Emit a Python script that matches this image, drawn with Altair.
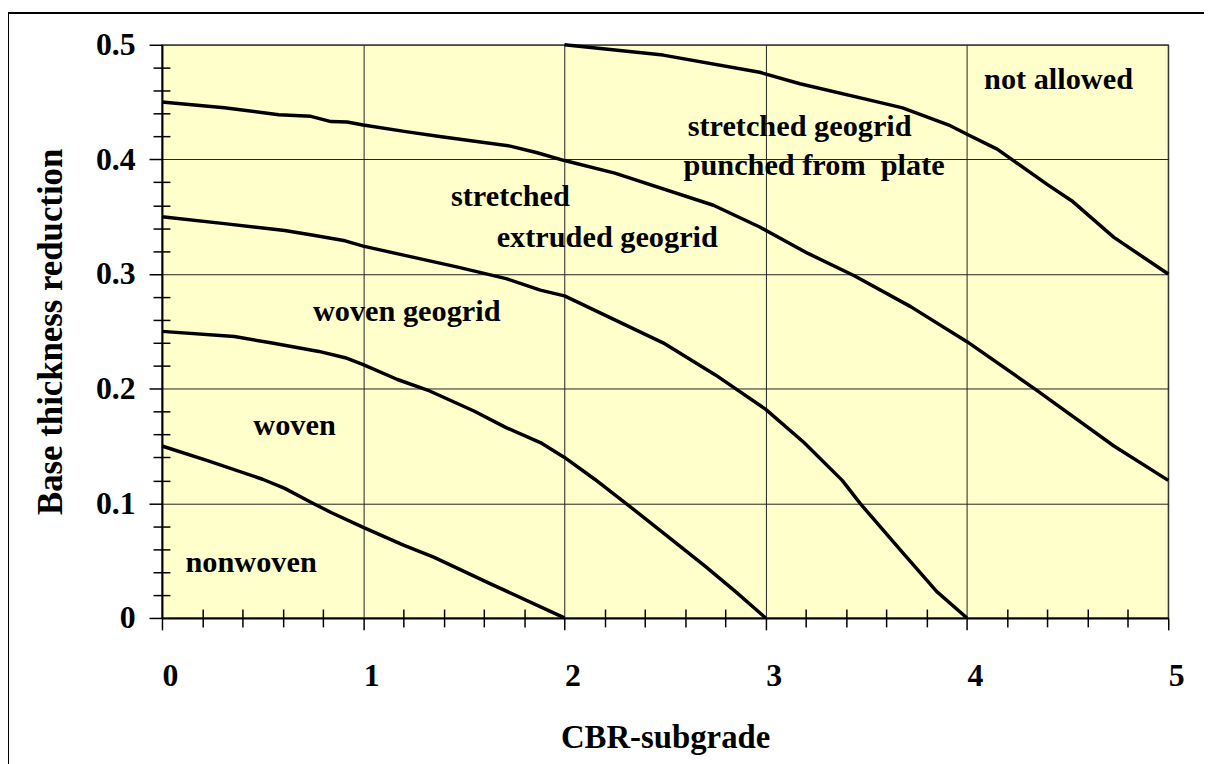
import altair as alt
import pandas as pd

FONT = "Liberation Serif"

# ---- curve data (CBR-subgrade vs base thickness reduction) ----
nonwoven_x = [0, 0.23, 0.50, 0.61, 0.74, 0.84, 1.00, 1.20, 1.35, 1.63, 2.00]
nonwoven_y = [0.150, 0.137, 0.121, 0.113, 0.101, 0.092, 0.079, 0.0635, 0.053, 0.030, 0.0]

woven_x = [0, 0.36, 0.54, 0.78, 0.91, 1.00, 1.17, 1.33, 1.55, 1.71, 1.88, 2.00,
           2.15, 2.305, 2.50, 2.70, 2.85, 3.00]
woven_y = [0.250, 0.2455, 0.240, 0.2325, 0.227, 0.221, 0.208, 0.198, 0.1805, 0.166,
           0.153, 0.140, 0.121, 0.100, 0.073, 0.045, 0.023, 0.0]

wgrid_x = [0, 0.31, 0.61, 0.76, 0.91, 1.00, 1.24, 1.47, 1.71, 1.88, 2.00, 2.37,
           2.49, 2.75, 3.00, 3.19, 3.38, 3.47, 3.69, 3.85, 4.00]
wgrid_y = [0.350, 0.344, 0.338, 0.3336, 0.329, 0.3244, 0.315, 0.306, 0.296, 0.286,
           0.281, 0.250, 0.240, 0.212, 0.182, 0.153, 0.120, 0.0997, 0.055, 0.023, 0.0]

extr_x = [0, 0.31, 0.58, 0.74, 0.84, 0.92, 1.00, 1.22, 1.38, 1.73, 1.86, 2.00,
          2.25, 2.74, 2.97, 3.21, 3.44, 3.72, 4.00, 4.34, 4.73, 5.00]
extr_y = [0.450, 0.445, 0.439, 0.4376, 0.433, 0.4327, 0.430, 0.424, 0.420, 0.4116,
          0.406, 0.399, 0.388, 0.360, 0.341, 0.318, 0.2985, 0.2716, 0.241, 0.1994,
          0.150, 0.120]

punch_x = [2.00, 2.49, 2.97, 3.17, 3.56, 3.68, 3.91, 4.00, 4.15, 4.40, 4.52, 4.73, 5.00]
punch_y = [0.500, 0.491, 0.476, 0.466, 0.450, 0.445, 0.430, 0.422, 0.409, 0.378,
           0.364, 0.332, 0.300]

# ---- region labels ----
label_text = ["not allowed", "stretched geogrid", "punched from\u00a0 plate", "stretched",
              "extruded geogrid", "woven geogrid", "woven", "nonwoven"]
label_x = [4.085, 2.612, 2.592, 1.436, 1.663, 0.750, 0.454, 0.117]
label_y = [0.461, 0.420, 0.386, 0.3596, 0.324, 0.2594, 0.160, 0.0404]

# ---- axis ticks ----
x_major = [0, 1, 2, 3, 4, 5]
x_minor = [0.2, 0.4, 0.6, 0.8, 1.2, 1.4, 1.6, 1.8, 2.2, 2.4, 2.6, 2.8,
           3.2, 3.4, 3.6, 3.8, 4.2, 4.4, 4.6, 4.8]
y_major = [0, 0.1, 0.2, 0.3, 0.4, 0.5]
y_minor = [0.02, 0.04, 0.06, 0.08, 0.12, 0.14, 0.16, 0.18, 0.22, 0.24, 0.26, 0.28,
           0.32, 0.34, 0.36, 0.38, 0.42, 0.44, 0.46, 0.48]

curves = [("c1", nonwoven_x, nonwoven_y), ("c2", woven_x, woven_y),
          ("c3", wgrid_x, wgrid_y), ("c4", extr_x, extr_y), ("c5", punch_x, punch_y)]
rows = []
for name, xs, ys in curves:
    for i, (xv, yv) in enumerate(zip(xs, ys)):
        rows.append({"curve": name, "i": i, "cbr": xv, "red": yv})
df = pd.DataFrame(rows)
labels_df = pd.DataFrame({"text": label_text, "lx": label_x, "ly": label_y})

W, H = 1013, 577
x_scale = alt.Scale(domain=[0, 5], nice=False, zero=False)
y_scale = alt.Scale(domain=[0, 0.5], nice=False, zero=False)

x_axis_main = alt.Axis(
    values=x_major, orient="bottom", title="CBR-subgrade",
    grid=True, gridColor="#222222", gridWidth=1, gridOpacity=1,
    tickSize=12, tickColor="black", tickWidth=1.5,
    domainColor="black", domainWidth=2,
    labelFont=FONT, labelFontSize=32, labelFontWeight="bold", labelColor="black",
    labelAlign="left", labelBaseline="alphabetic", labelPadding=56, labelFlush=False,
    labelOverlap=False,
    titleFont=FONT, titleFontSize=33, titleFontWeight="bold", titleColor="black",
    titleX=W / 2, titleY=130, titleBaseline="alphabetic", titleAlign="center",
)
y_axis_main = alt.Axis(
    values=y_major, orient="left", title="Base thickness reduction", format="~g",
    grid=True, gridColor="#222222", gridWidth=1, gridOpacity=1,
    tickSize=13, tickColor="black", tickWidth=1.5,
    domainColor="black", domainWidth=2,
    labelFont=FONT, labelFontSize=32, labelFontWeight="bold", labelColor="black",
    labelAlign="right", labelBaseline="middle", labelPadding=14, labelFlush=False,
    labelOverlap=False,
    titleFont=FONT, titleFontSize=35, titleFontWeight="bold", titleColor="black",
    titleAngle=270, titleX=-101, titleY=H / 2, titleBaseline="alphabetic",
    titleAlign="center",
)
x_axis_minor = alt.Axis(
    values=x_minor, orient="bottom", title=None, grid=False, domain=False,
    labels=False, tickSize=18, tickColor="black", tickWidth=1.5, offset=-9,
)
y_axis_minor = alt.Axis(
    values=y_minor, orient="left", title=None, grid=False, domain=False,
    labels=False, tickSize=17, tickColor="black", tickWidth=1.5, offset=-8,
)

lines = alt.Chart(df).mark_line(color="black", strokeWidth=3.5, strokeJoin="round").encode(
    x=alt.X("cbr:Q", scale=x_scale, axis=x_axis_main),
    y=alt.Y("red:Q", scale=y_scale, axis=y_axis_main),
    detail="curve:N",
    order="i:Q",
)

text = alt.Chart(labels_df).mark_text(
    align="left", baseline="alphabetic", font=FONT, fontSize=30.5,
    fontWeight="bold", color="black",
).encode(
    x=alt.X("lx:Q", scale=x_scale, axis=x_axis_minor),
    y=alt.Y("ly:Q", scale=y_scale, axis=y_axis_minor),
    text="text:N",
)

border = alt.Chart(alt.Data(values=[{"b": 1}])).mark_rect(
    filled=False, color="black", strokeWidth=2
).encode(
    x=alt.value(-155), x2=alt.value(1300), y=alt.value(-32), y2=alt.value(900)
)

chart = (
    alt.layer(lines, text, border)
    .resolve_axis(x="independent", y="independent")
    .properties(
        width=W, height=H,
        padding={"left": 155, "top": 34.5, "right": 36, "bottom": 144},
        autosize=alt.AutoSizeParams(type="none"),
        background="white",
    )
    .configure_view(fill="#FFFFCC", stroke="#808080", strokeWidth=1.5)
)

chart.save("out.html", embed_options={"renderer": "svg", "actions": False})
